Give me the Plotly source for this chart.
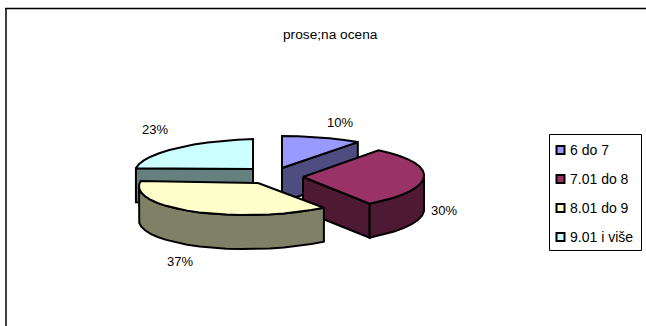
import numpy as np
import plotly.graph_objects as go

categories = ["6 do 7", "7.01 do 8", "8.01 do 9", "9.01 i više"]
values = [10, 30, 37, 23]
title = "prose;na ocena"

top_colors = ["#9999FF", "#993366", "#FFFFCC", "#CCFFFF"]
side_colors = ["#4D4D80", "#4D1933", "#808066", "#668080"]
apex = [(282, 168), (303, 177), (258, 183), (253, 169)]
radii = [(129, 32), (121, 33), (119, 32), (118, 30)]
skew_x = [0, 5.5, 5, 0]
skew_y = [0, 0, -2, -3]
label_pos = [(340, 123.5), (444, 211.5), (180, 262.5), (155, 131)]
depth = 34
draw_order = [3, 0, 1, 2]

W, H = 646, 326
fig = go.Figure()
total = sum(values)
starts = np.cumsum([0] + values[:-1]) / total * 360
ends = np.cumsum(values) / total * 360


def rim(i, a0, a1):
    n = max(2, int(abs(a1 - a0) / 7) + 1)
    t = np.radians(np.linspace(a0, a1, n))
    cx, cy = apex[i]
    rx, ry = radii[i]
    return (cx + rx * np.sin(t) + skew_x[i] * np.cos(t),
            cy - ry * np.cos(t) + skew_y[i] * np.sin(t))


def poly(x, y, color):
    fig.add_trace(go.Scatter(
        x=list(x) + [x[0]], y=list(y) + [y[0]], mode="lines", fill="toself",
        fillcolor=color, line=dict(color="#000000", width=2),
        hoverinfo="skip", showlegend=False))


for i in draw_order:
    a0, a1 = starts[i], ends[i]
    cx, cy = apex[i]
    # radial walls that face the viewer
    walls = ([a1] if a1 < 180 else []) + ([a0] if a0 > 180 else [])
    for a in walls:
        ex, ey = rim(i, a, a)
        ex, ey = ex[0], ey[0]
        poly([cx, ex, ex, cx], [cy, ey, ey + depth, cy + depth], side_colors[i])
    # outer wall, front half only
    lo, hi = max(a0, 90), min(a1, 270)
    if lo < hi:
        x, y = rim(i, lo, hi)
        poly(np.r_[x, x[::-1]], np.r_[y, (y + depth)[::-1]], side_colors[i])
    # top
    x, y = rim(i, a0, a1)
    poly(np.r_[cx, x], np.r_[cy, y], top_colors[i])

# data labels
fig.add_trace(go.Scatter(
    x=[p[0] for p in label_pos], y=[p[1] for p in label_pos], mode="text",
    text=[f"{round(v / total * 100)}%" for v in values], textposition="middle center",
    textfont=dict(family="Liberation Sans", size=13, color="#000000"),
    hoverinfo="skip", showlegend=False))

# legend
leg_y = [150, 179, 208, 237]
for c, col, y in zip(categories, top_colors, leg_y):
    fig.add_trace(go.Scatter(
        x=[560.5], y=[y], mode="markers",
        marker=dict(symbol="square", size=8, color=col, line=dict(color="#000000", width=2)),
        hoverinfo="skip", showlegend=False))
    fig.add_trace(go.Scatter(
        x=[570], y=[y + 1], mode="text", text=[c], textposition="middle right",
        textfont=dict(family="Liberation Sans", size=14, color="#000000"),
        hoverinfo="skip", showlegend=False))

fig.update_layout(
    width=W, height=H, autosize=False, margin=dict(l=0, r=0, t=0, b=0),
    paper_bgcolor="#FFFFFF", plot_bgcolor="#FFFFFF", showlegend=False,
    xaxis=dict(range=[0, W], visible=False, fixedrange=True),
    yaxis=dict(range=[H, 0], visible=False, fixedrange=True),
    shapes=[
        dict(type="line", x0=6, x1=6, y0=8, y1=H, line=dict(color="#404040", width=2)),
        dict(type="line", x0=5, x1=W, y0=8.5, y1=8.5, line=dict(color="#000000", width=1.5)),
        dict(type="rect", x0=549.5, x1=641.5, y0=134.5, y1=250.5, line=dict(color="#000000", width=1)),
    ],
    annotations=[dict(x=330.5, y=34.5, text=title, showarrow=False, xref="x", yref="y",
                      font=dict(family="Liberation Sans", size=13.7, color="#000000"))],
)
fig.write_html("out.html", config={"displayModeBar": False},
               post_script="document.body.style.margin='0';")
